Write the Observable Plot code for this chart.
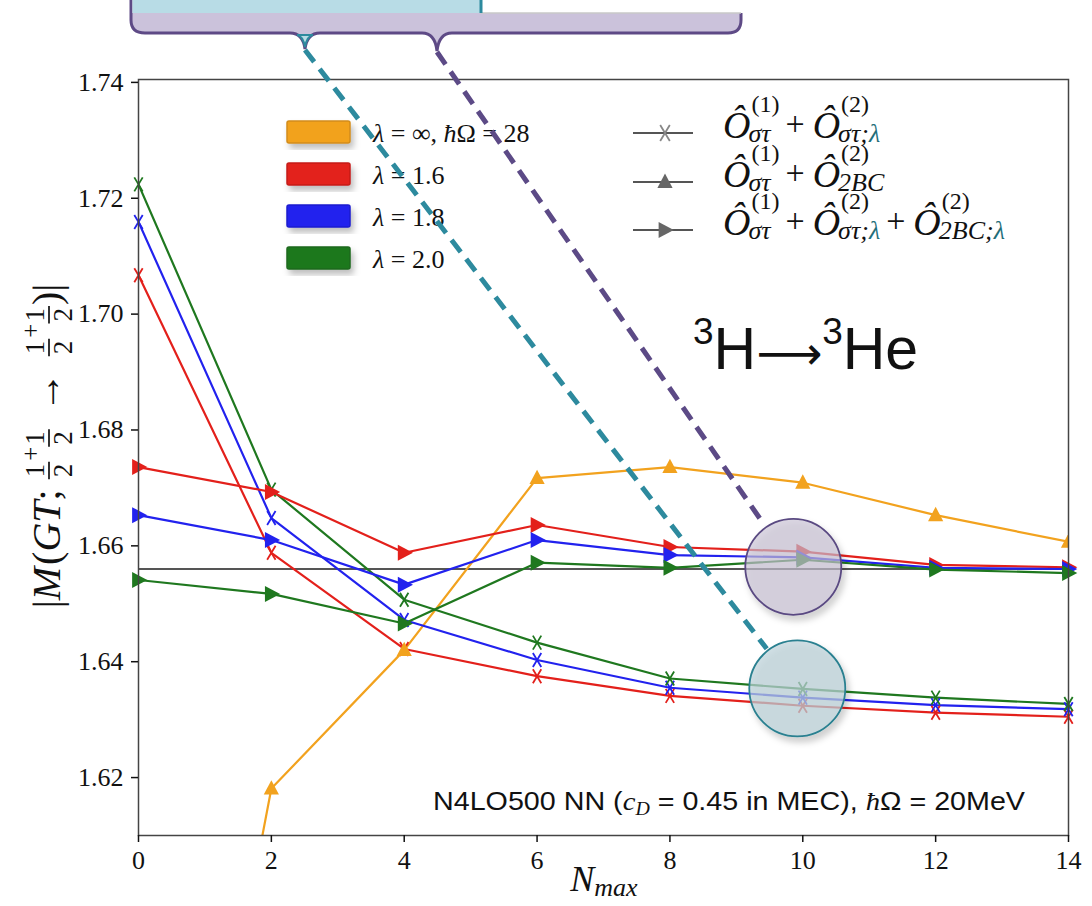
<!DOCTYPE html>
<html><head><meta charset="utf-8">
<script src="https://cdn.jsdelivr.net/npm/d3@7"></script>
<script src="https://cdn.jsdelivr.net/npm/@observablehq/plot@0.6"></script>
<style>
body{margin:0;background:#fff;}
#chart{position:relative;width:1092px;height:906px;overflow:hidden;}
#chart svg g[aria-label$="tick label"], #chart svg g[aria-label$="tick label"] text{font-size:26px !important;fill:#111;}
</style></head><body><div id="chart"></div>
<script>
// ---------------- data ----------------
const nmax = [0, 2, 4, 6, 8, 10, 12, 14];
const lambdaKeys = ["inf", "1.6", "1.8", "2.0"];
const lambdaLabels = ["λ = ∞, ħΩ = 28", "λ = 1.6", "λ = 1.8", "λ = 2.0"];
const lambdaColors = ["#F2A21E", "#E3201B", "#2222EE", "#1F781F"];

// O(1)στ + O(2)2BC  (triangles, λ = ∞)
const inf2BC = [1.498, 1.6181, 1.6420, 1.6717, 1.6736, 1.6709, 1.6653, 1.6607];
// O(1)στ + O(2)στ;λ  (crosses)
const l16Cross = [1.7067, 1.6588, 1.6422, 1.6375, 1.6341, 1.6324, 1.6312, 1.6305];
const l18Cross = [1.7159, 1.6648, 1.6472, 1.6403, 1.6355, 1.6338, 1.6325, 1.6318];
const l20Cross = [1.7224, 1.6697, 1.6507, 1.6433, 1.6371, 1.6353, 1.6338, 1.6327];
// O(1)στ + O(2)στ;λ + O(2)2BC;λ  (right triangles)
const l16Full = [1.6736, 1.6693, 1.6588, 1.6636, 1.6598, 1.6590, 1.6567, 1.6563];
const l18Full = [1.6653, 1.6610, 1.6533, 1.6610, 1.6584, 1.6580, 1.6562, 1.6560];
const l20Full = [1.6541, 1.6517, 1.6466, 1.6571, 1.6562, 1.6576, 1.6559, 1.6553];

const refValue = 1.656;
const xTicks = [0, 2, 4, 6, 8, 10, 12, 14];
const yTicks = [1.62, 1.64, 1.66, 1.68, 1.70, 1.72, 1.74];
const highlightN = 10;
const highlightFull = 1.6563;
const highlightCross = 1.6353;

// ---------------- tables ----------------
const rows = (key, op, vals) => nmax.map((n, i) => ({n, v: vals[i], key, op, grp: key + "-" + op}));
const bcRows = rows("inf", "bc", inf2BC);
const crossRows = [...rows("1.6", "x", l16Cross), ...rows("1.8", "x", l18Cross), ...rows("2.0", "x", l20Cross)];
const fullRows = [...rows("1.6", "f", l16Full), ...rows("1.8", "f", l18Full), ...rows("2.0", "f", l20Full)];
const allRows = [...bcRows, ...crossRows, ...fullRows];

// ---------------- symbols ----------------
const rOf = size => Math.sqrt(size / Math.PI);
const symTimes = {draw(c, size) { const s = rOf(size);
  c.moveTo(-0.6 * s, -s); c.lineTo(0.6 * s, s); c.moveTo(0.6 * s, -s); c.lineTo(-0.6 * s, s); }};
const symUp = {draw(c, size) { const s = rOf(size);
  c.moveTo(0, -1.05 * s); c.lineTo(0.95 * s, 0.75 * s); c.lineTo(-0.95 * s, 0.75 * s); c.closePath(); }};
const symRight = {draw(c, size) { const s = rOf(size);
  c.moveTo(-0.8 * s, -s); c.lineTo(1.1 * s, 0); c.lineTo(-0.8 * s, s); c.closePath(); }};

const serif = "'Liberation Serif','DejaVu Serif',serif";

const plot = Plot.plot({
  width: 1092, height: 906,
  marginLeft: 138, marginRight: 24, marginTop: 79, marginBottom: 71,
  style: {background: "transparent", fontFamily: serif, fontSize: "26px", color: "#111"},
  x: {domain: [0, 14]},
  y: {domain: [1.61, 1.7405]},
  color: {domain: lambdaKeys, range: lambdaColors},
  marks: [
    Plot.ruleY([refValue], {stroke: "#555", strokeWidth: 2}),
    Plot.line(allRows, {x: "n", y: "v", z: "grp", stroke: "key", strokeWidth: 2.2, clip: true}),
    Plot.dot(crossRows, {x: "n", y: "v", stroke: "key", symbol: symTimes, r: 7, strokeWidth: 1.8, fill: "none"}),
    Plot.dot(fullRows, {x: "n", y: "v", fill: "key", stroke: "none", symbol: symRight, r: 8}),
    Plot.dot(bcRows, {x: "n", y: "v", fill: "key", stroke: "none", symbol: symUp, r: 8, clip: true}),
    Plot.frame({stroke: "#444", strokeWidth: 1.5}),
    Plot.axisY(yTicks, {tickFormat: d3.format(".2f"), tickSize: 7, tickPadding: 8, fontSize: 26, label: null, strokeWidth: 1.5}),
    Plot.axisX(xTicks, {tickSize: 7, tickPadding: 8, fontSize: 26, label: null, strokeWidth: 1.5})
  ]
});
document.getElementById("chart").appendChild(plot);

const xs = plot.scale("x"), ys = plot.scale("y");
const svg = d3.select(plot);
const defs = svg.append("defs");
const f = defs.append("filter").attr("id", "shadow").attr("x", "-30%").attr("y", "-30%").attr("width", "160%").attr("height", "160%");
f.append("feDropShadow").attr("dx", 3).attr("dy", 5).attr("stdDeviation", 3).attr("flood-color", "#000").attr("flood-opacity", 0.25);

const layer = svg.append("g").attr("text-anchor", "start");

// ---------------- y axis title (laid out piece by piece, then rotated) ----------------
{
  const g = layer.append("g");
  let x = 0;
  const put = (s, size, italic, dy = 0) => {
    const t = g.append("text").attr("x", x).attr("y", dy).attr("font-size", size).attr("font-family", serif)
      .attr("font-style", italic ? "italic" : "normal").attr("fill", "#111").text(s);
    x += t.node().getComputedTextLength();
  };
  const frac = () => {
    const a = g.append("text").attr("x", x + 2).attr("y", -16).attr("font-size", 27).attr("font-family", serif).attr("fill", "#111").text("1");
    g.append("text").attr("x", x + 2).attr("y", 12).attr("font-size", 27).attr("font-family", serif).attr("fill", "#111").text("2");
    const w = a.node().getComputedTextLength() + 4;
    g.append("line").attr("x1", x).attr("x2", x + w).attr("y1", -11).attr("y2", -11).attr("stroke", "#111").attr("stroke-width", 1.7);
    x += w + 1;
  };
  put("|", 40); put("M", 40, true); x += 2; put("(", 40); put("GT", 40, true); put(";", 40); x += 10;
  frac(); put("+", 25, false, -21); frac(); x += 16;
  put("→", 40); x += 16;
  frac(); put("+", 25, false, -21); frac(); put(")", 40); put("|", 40);
  g.attr("transform", `translate(60,${446 + x / 2}) rotate(-90)`);
}

const xl = layer.append("text").attr("x", 604).attr("y", 891).attr("text-anchor", "middle")
  .attr("font-family", serif).attr("font-style", "italic").attr("fill", "#111");
xl.append("tspan").attr("font-size", 36).text("N");
xl.append("tspan").attr("font-size", 26).attr("dy", 5).text("max");

// ---------------- legend 1 (colours) ----------------
const leg1 = layer.append("g");
const rowY = [132, 174, 216, 258];
lambdaKeys.forEach((k, i) => {
  leg1.append("rect").attr("x", 287).attr("y", rowY[i] - 11).attr("width", 63).attr("height", 22).attr("rx", 2)
    .attr("fill", lambdaColors[i]).attr("stroke", d3.color(lambdaColors[i]).darker(0.4)).attr("stroke-width", 1.5)
    .attr("filter", "url(#shadow)");
  const t = leg1.append("text").attr("x", 373).attr("y", rowY[i] + 10).attr("font-size", 26)
    .attr("font-family", serif).attr("fill", "#111");
  const lab = lambdaLabels[i];
  t.append("tspan").attr("font-style", "italic").text(lab[0]);
  if (i === 0) {
    t.append("tspan").text(" = ∞, ");
    t.append("tspan").attr("font-style", "italic").text("ħ");
    t.append("tspan").text("Ω = 28");
  } else {
    t.append("tspan").text(lab.slice(1));
  }
});

// ---------------- legend 2 (operators) ----------------
const leg2 = layer.append("g");
const opBase = [138, 187, 235];
const opSyms = [symTimes, symUp, symRight];
opBase.forEach((b, i) => {
  const ly = b - 5;
  leg2.append("line").attr("x1", 633).attr("x2", 693).attr("y1", ly).attr("y2", ly).attr("stroke", "#555").attr("stroke-width", 2);
  const p = d3.path(); opSyms[i].draw(p, Math.PI * 64);
  leg2.append("path").attr("d", p.toString()).attr("transform", `translate(665,${ly})`)
    .attr("fill", i === 0 ? "none" : "#666").attr("stroke", i === 0 ? "#888" : "none").attr("stroke-width", 1.8);
});
const mathFont = "'Liberation Serif','DejaVu Serif',serif";
const teal = "#1F6E7A";
function drawOp(x, base, sup, subs) {
  const o = leg2.append("text").attr("x", x).attr("y", base).attr("font-size", 38).attr("font-style", "italic")
    .attr("font-family", mathFont).attr("fill", "#111").text("Ô");
  const w = o.node().getComputedTextLength();
  const x2 = x + w + 1;
  const s1 = leg2.append("text").attr("x", x2).attr("y", base - 26).attr("font-size", 24).attr("font-family", mathFont).attr("fill", "#111").text(sup);
  const s2 = leg2.append("text").attr("x", x2 - 3).attr("y", base + 4).attr("font-size", 26).attr("font-style", "italic").attr("font-family", mathFont).attr("fill", "#111");
  subs.forEach(([t, c]) => s2.append("tspan").attr("fill", c || "#111").text(t));
  return x2 + Math.max(s1.node().getComputedTextLength(), s2.node().getComputedTextLength() - 3);
}
function drawPlus(x, base) {
  const t = leg2.append("text").attr("x", x + 6).attr("y", base - 3).attr("font-size", 34).attr("font-family", mathFont).attr("fill", "#111").text("+");
  return x + 14 + t.node().getComputedTextLength();
}
{
  let x = 723;
  x = drawOp(x, opBase[0], "(1)", [["στ"]]); x = drawPlus(x, opBase[0]);
  drawOp(x, opBase[0], "(2)", [["στ;"], ["λ", teal]]);
  x = 723;
  x = drawOp(x, opBase[1], "(1)", [["στ"]]); x = drawPlus(x, opBase[1]);
  drawOp(x, opBase[1], "(2)", [["2BC"]]);
  x = 723;
  x = drawOp(x, opBase[2], "(1)", [["στ"]]); x = drawPlus(x, opBase[2]);
  x = drawOp(x, opBase[2], "(2)", [["στ;"], ["λ", teal]]); x = drawPlus(x, opBase[2]);
  drawOp(x, opBase[2], "(2)", [["2BC;"], ["λ", teal]]);
}

// ---------------- reaction label ----------------
const rl = layer.append("text").attr("x", 693).attr("y", 369).attr("font-family", "'Liberation Sans',Arial,sans-serif")
  .attr("font-size", 59).attr("fill", "#111");
rl.append("tspan").attr("font-size", 37).attr("dy", -25).text("3");
rl.append("tspan").attr("dy", 25).text("H");
rl.append("tspan").attr("font-family", "'DejaVu Sans',sans-serif").attr("font-size", 46).text("⟶");
rl.append("tspan").attr("font-size", 37).attr("dy", -25).text("3");
rl.append("tspan").attr("dy", 25).text("He");

// ---------------- note ----------------
const nt = layer.append("text").attr("x", 433).attr("y", 810).attr("font-size", 26)
  .attr("font-family", "'Liberation Sans Narrow','Liberation Sans',Arial,sans-serif").attr("fill", "#111")
  .attr("textLength", 592).attr("lengthAdjust", "spacingAndGlyphs");
nt.append("tspan").text("N4LO500 NN (");
nt.append("tspan").attr("font-family", serif).attr("font-style", "italic").text("c");
nt.append("tspan").attr("font-family", serif).attr("font-style", "italic").attr("font-size", 18).attr("dy", 5).text("D");
nt.append("tspan").attr("dy", -5).text(" = 0.45 in MEC), ");
nt.append("tspan").attr("font-family", serif).attr("font-style", "italic").text("ħ");
nt.append("tspan").text("Ω = 20MeV");

// ---------------- callout annotations ----------------
const ann = layer.append("g");
ann.append("path")
  .attr("d", "M131,-5 L131,20 Q131,33 145,33 L290,33 Q303,33 305,49 Q307,33 320,33 L422,33 Q435,33 437,51 Q439,33 452,33 L728,33 Q741,33 741,20 L741,13 L131,13 Z")
  .attr("fill", "#CBC2DB").attr("stroke", "none");
ann.append("path")
  .attr("d", "M131,-5 L131,20 Q131,33 145,33 L290,33 Q303,33 305,49 Q307,33 320,33 L422,33 Q435,33 437,51 Q439,33 452,33 L728,33 Q741,33 741,20 L741,13")
  .attr("fill", "none").attr("stroke", "#5E4A86").attr("stroke-width", 3);
ann.append("line").attr("x1", 481).attr("x2", 741).attr("y1", 13).attr("y2", 13).attr("stroke", "#C8C8C8").attr("stroke-width", 1.5);
ann.append("path").attr("d", "M297,35 Q303,36 305,47 Q307,36 313,35 Z").attr("fill", "#B8DCE6").attr("stroke", "#2D8A9E").attr("stroke-width", 2);
ann.append("rect").attr("x", 132.5).attr("y", -5).attr("width", 348).attr("height", 18).attr("fill", "#B8DCE6");
ann.append("line").attr("x1", 481).attr("x2", 481).attr("y1", -5).attr("y2", 13).attr("stroke", "#2D8A9E").attr("stroke-width", 3);

const cxP = xs.apply(highlightN) - 9, cyP = ys.apply(highlightFull);
const cxT = xs.apply(highlightN) - 5, cyT = ys.apply(highlightCross);
const R = 48;
function dashTo(x1, y1, cx, cy, color) {
  const dx = cx - x1, dy = cy - y1, L = Math.hypot(dx, dy);
  ann.append("line").attr("x1", x1).attr("y1", y1).attr("x2", cx - dx / L * (R + 2)).attr("y2", cy - dy / L * (R + 2))
    .attr("stroke", color).attr("stroke-width", 5).attr("stroke-dasharray", "15 9");
}
dashTo(305, 50, cxT, cyT, "#2D8A9E");
dashTo(437, 52, cxP, cyP, "#5C4A86");
ann.append("circle").attr("cx", cxP).attr("cy", cyP).attr("r", R).attr("fill", "#C8C1D4").attr("fill-opacity", 0.65)
  .attr("stroke", "#5A4A82").attr("stroke-width", 1.8).attr("filter", "url(#shadow)");
ann.append("circle").attr("cx", cxT).attr("cy", cyT).attr("r", R).attr("fill", "#BCD2D8").attr("fill-opacity", 0.7)
  .attr("stroke", "#2A8090").attr("stroke-width", 1.8).attr("filter", "url(#shadow)");
</script></body></html>
